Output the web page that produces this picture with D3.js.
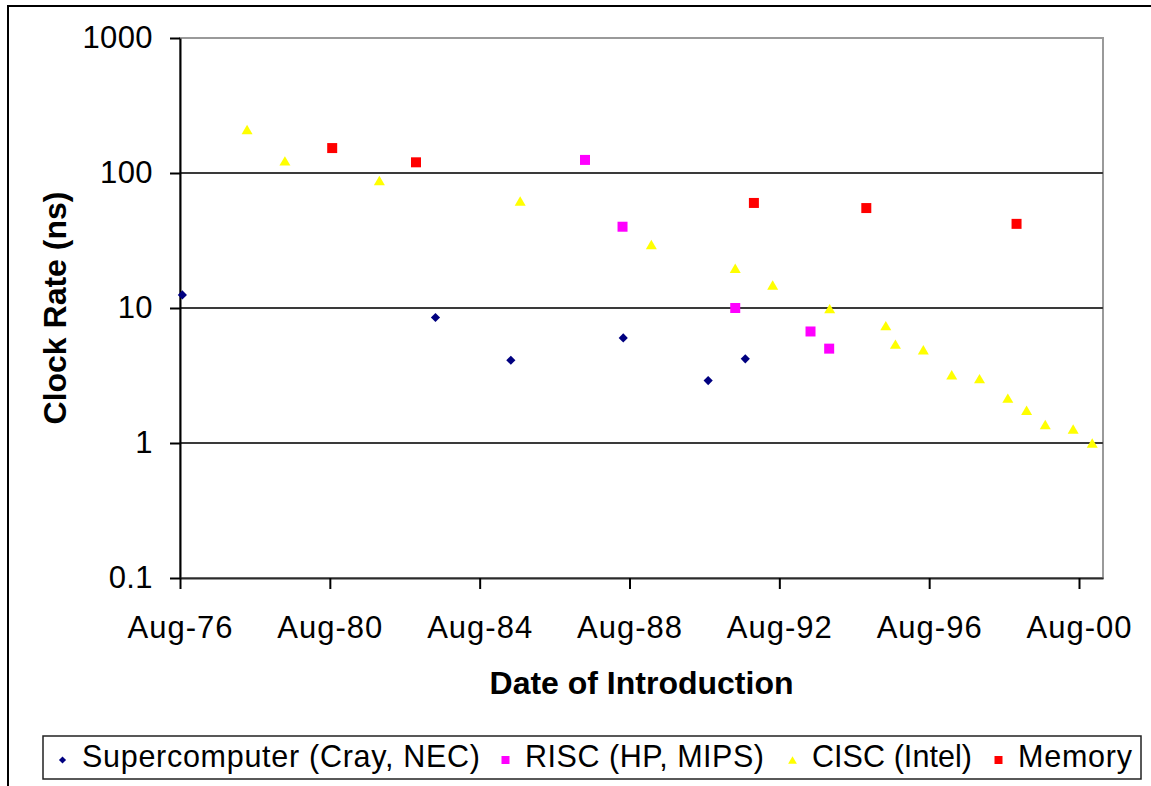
<!DOCTYPE html>
<html>
<head>
<meta charset="utf-8">
<script src="https://cdn.jsdelivr.net/npm/d3@7"></script>
<style>
  html, body { margin: 0; padding: 0; background: #fff; }
  svg { display: block; font-family: "Liberation Sans", Arial, Helvetica, sans-serif; }
</style>
</head>
<body>
<svg id="chart" width="1151" height="786"></svg>
<script>
// Clock periods (ns) by date of introduction
const superDates  = ["1976-09-20", "1983-06-24", "1985-06-28", "1988-06-28", "1990-10-04", "1991-10-01"];
const superValues = [12.5, 8.5, 4.1, 6, 2.9, 4.2];

const riscDates  = ["1987-06-21", "1988-06-21", "1991-06-25", "1993-06-28", "1993-12-27"];
const riscValues = [125, 40, 10, 6.7, 5];

const ciscDates  = ["1978-06-13", "1979-06-17", "1981-12-24", "1985-09-27", "1989-03-29",
                    "1991-06-25", "1992-06-24", "1994-01-01", "1995-07-02", "1995-10-04",
                    "1996-07-02", "1997-04-05", "1998-01-01", "1998-10-04", "1999-04-05",
                    "1999-10-04", "2000-07-02", "2001-01-04"];
const ciscValues = [210, 123, 88, 62, 29.5, 19.7, 14.8, 9.9, 7.4, 5.4,
                    4.9, 3.2, 3.0, 2.15, 1.75, 1.37, 1.27, 1.0];

const memDates  = ["1980-09-20", "1982-12-16", "1991-12-24", "1994-12-24", "1998-12-28"];
const memValues = [153, 120, 60, 55, 42];

const seriesNames = ["Supercomputer (Cray, NEC)", "RISC (HP, MIPS)", "CISC (Intel)", "Memory"];

const xTickDates  = ["1976-08-28", "1980-08-28", "1984-08-28", "1988-08-28", "1992-08-28", "1996-08-28", "2000-08-28"];
const xDomain     = ["1976-08-28", "2001-04-19"];
const yTicks      = [1000, 100, 10, 1, 0.1];
const yTickLabels = ["1000", "100", "10", "1", "0.1"];

const parse = d3.timeParse("%Y-%m-%d");

const svg = d3.select("#chart");
const plot = { left: 180, top: 38, right: 1103, bottom: 578 };

const x = d3.scaleTime()
  .domain(xDomain.map(parse))
  .range([plot.left, plot.right]);
const y = d3.scaleLog()
  .domain([0.1, 1000])
  .range([plot.bottom, plot.top]);

// Outer chart frame (left and top edges)
svg.append("path")
  .attr("d", "M8,786 L8,6 L1151,6")
  .attr("fill", "none")
  .attr("stroke", "#000")
  .attr("stroke-width", 2);

// Plot area border
svg.append("rect")
  .attr("x", plot.left).attr("y", plot.top)
  .attr("width", plot.right - plot.left)
  .attr("height", plot.bottom - plot.top)
  .attr("fill", "#fff")
  .attr("stroke", "#9a9a9a")
  .attr("stroke-width", 2);

// Horizontal gridlines at the inner decades
svg.append("g")
  .selectAll("line")
  .data(yTicks.filter(v => v > 0.1 && v < 1000))
  .join("line")
  .attr("x1", plot.left).attr("x2", plot.right)
  .attr("y1", d => y(d)).attr("y2", d => y(d))
  .attr("stroke", "#3a3a3a")
  .attr("stroke-width", 2);

// Y axis
const yAxis = d3.axisLeft(y)
  .tickValues(yTicks)
  .tickFormat((d, i) => yTickLabels[i])
  .tickSize(10)
  .tickSizeOuter(0)
  .tickPadding(17);
const gy = svg.append("g")
  .attr("transform", `translate(${plot.left},0)`)
  .call(yAxis);
gy.select(".domain").attr("stroke", "#000").attr("stroke-width", 2);
gy.selectAll(".tick line").attr("stroke", "#000").attr("stroke-width", 2);
gy.selectAll(".tick text")
  .attr("font-size", 31)
  .attr("letter-spacing", 0.4)
  .attr("fill", "#000")
  .attr("font-family", "'Liberation Sans', Arial, sans-serif");

// X axis
const xAxis = d3.axisBottom(x)
  .tickValues(xTickDates.map(parse))
  .tickFormat(d3.timeFormat("%b-%y"))
  .tickSize(11)
  .tickSizeOuter(0)
  .tickPadding(27);
const gx = svg.append("g")
  .attr("transform", `translate(0,${plot.bottom})`)
  .call(xAxis);
gx.select(".domain").attr("stroke", "#2a2a2a").attr("stroke-width", 2);
gx.selectAll(".tick line").attr("stroke", "#000").attr("stroke-width", 2);
gx.selectAll(".tick text")
  .attr("font-size", 31)
  .attr("letter-spacing", 1)
  .attr("fill", "#000")
  .attr("font-family", "'Liberation Sans', Arial, sans-serif");

// Axis titles
svg.append("text")
  .attr("x", (plot.left + plot.right) / 2)
  .attr("y", 694)
  .attr("text-anchor", "middle")
  .attr("font-size", 32)
  .attr("font-weight", "bold")
  .text("Date of Introduction");

svg.append("text")
  .attr("transform", `translate(66,${(plot.top + plot.bottom) / 2}) rotate(-90)`)
  .attr("text-anchor", "middle")
  .attr("font-size", 32)
  .attr("font-weight", "bold")
  .text("Clock Rate (ns)");

// Marker shapes
const triangleType = {
  draw(ctx, size) {
    const w = Math.sqrt(size) * 0.55, h = Math.sqrt(size) * 0.47;
    ctx.moveTo(0, -h);
    ctx.lineTo(w, h);
    ctx.lineTo(-w, h);
    ctx.closePath();
  }
};
const markers = [
  { type: d3.symbolSquare, size: 42, rotate: 45, color: "#000080" },
  { type: d3.symbolSquare, size: 100, rotate: 0, color: "#ff00ff" },
  { type: triangleType, size: 100, rotate: 0, color: "#ffff00" },
  { type: d3.symbolSquare, size: 100, rotate: 0, color: "#ff0000" }
];

const series = [
  { dates: superDates, values: superValues },
  { dates: riscDates, values: riscValues },
  { dates: ciscDates, values: ciscValues },
  { dates: memDates, values: memValues }
];

series.forEach((s, k) => {
  const m = markers[k];
  const pts = s.dates.map((d, i) => ({ date: parse(d), value: s.values[i] }));
  svg.append("g")
    .selectAll("path")
    .data(pts)
    .join("path")
    .attr("d", d3.symbol().type(m.type).size(m.size))
    .attr("transform", d => `translate(${x(d.date)},${y(d.value)}) rotate(${m.rotate})`)
    .attr("fill", m.color);
});

// Legend: one entry per series, laid out in a single row
const legendLayout = [
  { x: 82, width: 398, scale: 0.6 },
  { x: 525, width: 239, scale: 0.64 },
  { x: 812, width: 160, scale: 0.64 },
  { x: 1018, width: 114, scale: 0.64 }
];
const legend = svg.append("g");
legend.append("rect")
  .attr("x", 43).attr("y", 736)
  .attr("width", 1098).attr("height", 43)
  .attr("fill", "#fff")
  .attr("stroke", "#222")
  .attr("stroke-width", 1.5);

seriesNames.forEach((name, k) => {
  const m = markers[k];
  const L = legendLayout[k];
  legend.append("path")
    .attr("d", d3.symbol().type(m.type).size(m.size * L.scale))
    .attr("transform", `translate(${L.x - 19.5},760) rotate(${m.rotate})`)
    .attr("fill", m.color);
  legend.append("text")
    .attr("x", L.x)
    .attr("y", 767)
    .attr("font-size", 30.5)
    .attr("textLength", L.width)
    .attr("lengthAdjust", "spacing")
    .attr("fill", "#000")
    .text(name);
});
</script>
</body>
</html>
